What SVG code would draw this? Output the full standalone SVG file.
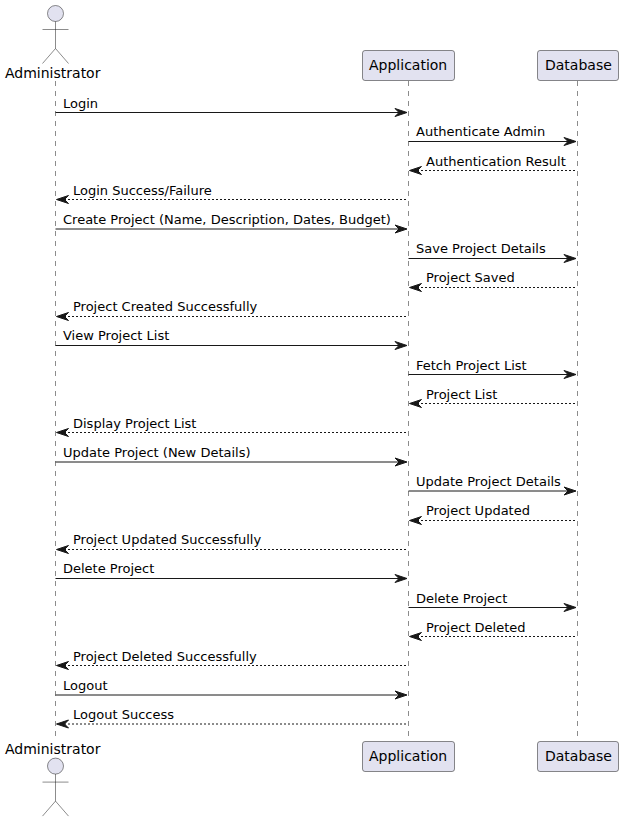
<svg xmlns="http://www.w3.org/2000/svg" width="623" height="822" viewBox="0 0 623 822">
<style>
text{font-family:"DejaVu Sans",sans-serif;fill:#000}
.m{font-size:13px}
.p{font-size:14px}
.life{stroke:#181818;stroke-width:.5;stroke-dasharray:5,5;fill:none}
.box{fill:#E2E2F0;stroke:#181818;stroke-width:.5}
.act{fill:none;stroke:#181818;stroke-width:.5}
.s{stroke:#181818;stroke-width:1;fill:none}
.d{stroke:#181818;stroke-width:1;stroke-dasharray:2,2;fill:none}
.h{fill:#181818;stroke:#181818;stroke-width:1}
</style>
<defs>
<g id="actor"><circle class="box" cx="55.5" cy="13.5" r="8"/><path class="act" d="M55.5 21.5V48.5M42.5 29.5H68.5M55.5 48.5L42.5 63.5M55.5 48.5L68.5 63.5"/></g>
<path id="ar" class="h" d="M-12 -4L0 0L-12 4L-8 0Z"/>
<path id="al" class="h" d="M12 -4L0 0L12 4L8 0Z"/>
</defs>
<g id="lifelines">
<path class="life" d="M55.5 81V741"/>
<path class="life" d="M408.5 81V741"/>
<path class="life" d="M577.5 81V741"/>
</g>
<g id="administrator-top"><use href="#actor"/><text class="p" x="5" y="78">Administrator</text></g>
<g id="application-top"><rect class="box" x="362.5" y="50.5" width="92" height="30" rx="2.5"/><text class="p" x="369" y="70">Application</text></g>
<g id="database-top"><rect class="box" x="537.5" y="50.5" width="81" height="30" rx="2.5"/><text class="p" x="545" y="70">Database</text></g>
<g id="administrator-bottom"><text class="p" x="5" y="754">Administrator</text><use href="#actor" y="752.6"/></g>
<g id="application-bottom"><rect class="box" x="362.5" y="741.5" width="92" height="30" rx="2.5"/><text class="p" x="369" y="761">Application</text></g>
<g id="database-bottom"><rect class="box" x="537.5" y="741.5" width="81" height="30" rx="2.5"/><text class="p" x="545" y="761">Database</text></g>
<g id="connectors">
<path class="s" d="M55.5 112.5H404"/><use href="#ar" x="407" y="112.5"/>
<path class="s" d="M408.5 141.5H573"/><use href="#ar" x="576" y="141.5"/>
<path class="d" d="M413 170.5H577"/><use href="#al" x="409.5" y="170.5"/>
<path class="d" d="M60 199.5H408"/><use href="#al" x="56.5" y="199.5"/>
<path class="s" d="M55.5 229H404"/><use href="#ar" x="407" y="229"/>
<path class="s" d="M408.5 258.500H573"/><use href="#ar" x="576" y="258.500"/>
<path class="d" d="M413 287.500H577"/><use href="#al" x="409.500" y="287.500"/>
<path class="d" d="M60 316.500H408"/><use href="#al" x="56.500" y="316.500"/>
<path class="s" d="M55.500 345.500H404"/><use href="#ar" x="407" y="345.500"/>
<path class="s" d="M408.500 374.500H573"/><use href="#ar" x="576" y="374.500"/>
<path class="d" d="M413 403.500H577"/><use href="#al" x="409.500" y="403.500"/>
<path class="d" d="M60 432.500H408"/><use href="#al" x="56.500" y="432.500"/>
<path class="s" d="M55.500 462H404"/><use href="#ar" x="407" y="462"/>
<path class="s" d="M408.500 491H573"/><use href="#ar" x="576" y="491"/>
<path class="d" d="M413 520.500H577"/><use href="#al" x="409.500" y="520.500"/>
<path class="d" d="M60 549.500H408"/><use href="#al" x="56.500" y="549.500"/>
<path class="s" d="M55.500 578.500H404"/><use href="#ar" x="407" y="578.500"/>
<path class="s" d="M408.500 607.500H573"/><use href="#ar" x="576" y="607.500"/>
<path class="d" d="M413 636.500H577"/><use href="#al" x="409.500" y="636.500"/>
<path class="d" d="M60 665.500H408"/><use href="#al" x="56.500" y="665.500"/>
<path class="s" d="M55.500 695H404"/><use href="#ar" x="407" y="695"/>
<path class="d" d="M60 724H408"/><use href="#al" x="56.500" y="724"/>
</g>
<g id="labels" class="m">
<text class="m" x="63" y="107.500">Login</text>
<text class="m" x="416" y="136">Authenticate Admin</text>
<text class="m" x="426" y="166">Authentication Result</text>
<text class="m" x="73" y="195">Login Success/Failure</text>
<text class="m" x="63" y="224">Create Project (Name, Description, Dates, Budget)</text>
<text class="m" x="416" y="253">Save Project Details</text>
<text class="m" x="426" y="282">Project Saved</text>
<text class="m" x="73" y="311">Project Created Successfully</text>
<text class="m" x="63" y="340">View Project List</text>
<text class="m" x="416" y="370">Fetch Project List</text>
<text class="m" x="426" y="399">Project List</text>
<text class="m" x="73" y="428">Display Project List</text>
<text class="m" x="63" y="457">Update Project (New Details)</text>
<text class="m" x="416" y="486">Update Project Details</text>
<text class="m" x="426" y="515">Project Updated</text>
<text class="m" x="73" y="544">Project Updated Successfully</text>
<text class="m" x="63" y="573">Delete Project</text>
<text class="m" x="416" y="603">Delete Project</text>
<text class="m" x="426" y="632">Project Deleted</text>
<text class="m" x="73" y="661">Project Deleted Successfully</text>
<text class="m" x="63" y="690">Logout</text>
<text class="m" x="73" y="719">Logout Success</text>
</g>
</svg>
